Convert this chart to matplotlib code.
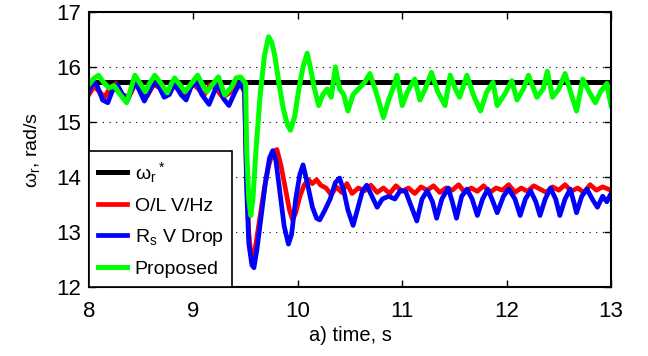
import numpy as np
import matplotlib as mpl
mpl.use("Agg")
import matplotlib.pyplot as plt

plt.rcParams['font.family'] = ['Liberation Sans', 'DejaVu Sans']
plt.rcParams['mathtext.fontset'] = 'custom'
plt.rcParams['mathtext.rm'] = 'Liberation Sans'
plt.rcParams['mathtext.default'] = 'regular'

# reference speed
ref_t = [8.0, 13.0]
ref_w = [15.72, 15.72]

# O/L V/Hz
red_t = [8.00, 8.05, 8.10, 8.15, 8.20, 8.26, 8.32, 8.38, 8.44, 8.50, 8.56, 8.62, 8.68, 8.74,
         8.80, 8.86, 8.92, 8.98, 9.04, 9.10, 9.16, 9.22, 9.28, 9.34, 9.40, 9.45, 9.49,
         9.51, 9.53, 9.55, 9.57, 9.60, 9.64, 9.68, 9.72, 9.76, 9.80, 9.84, 9.88, 9.92, 9.95,
         9.98, 10.02, 10.06, 10.10, 10.14, 10.18, 10.22, 10.27, 10.32, 10.37, 10.42, 10.47,
         10.52, 10.58, 10.64, 10.70, 10.76, 10.82, 10.88, 10.94, 11.00, 11.06, 11.12, 11.18,
         11.24, 11.30, 11.36, 11.42, 11.48, 11.54, 11.60, 11.66, 11.72, 11.78, 11.84, 11.90,
         11.96, 12.02, 12.08, 12.14, 12.20, 12.26, 12.32, 12.38, 12.44, 12.50, 12.56, 12.62,
         12.68, 12.74, 12.80, 12.86, 12.92, 13.00]
red_w = [15.50, 15.65, 15.55, 15.45, 15.62, 15.70, 15.50, 15.45, 15.68, 15.58, 15.48, 15.68, 15.62, 15.50,
         15.68, 15.58, 15.50, 15.70, 15.62, 15.48, 15.68, 15.60, 15.45, 15.52, 15.65, 15.70, 15.55,
         14.00, 13.00, 12.60, 12.45, 12.80, 13.30, 13.80, 14.20, 14.45, 14.50, 14.20, 13.80, 13.40, 13.22,
         13.35, 13.65, 13.85, 13.95, 13.88, 13.95, 13.85, 13.80, 13.68, 13.82, 13.72, 13.88,
         13.70, 13.80, 13.75, 13.85, 13.72, 13.80, 13.70, 13.84, 13.74, 13.80, 13.70, 13.82,
         13.76, 13.84, 13.72, 13.80, 13.76, 13.86, 13.72, 13.80, 13.74, 13.84, 13.72, 13.80,
         13.76, 13.86, 13.72, 13.80, 13.74, 13.84, 13.78, 13.72, 13.82, 13.76, 13.86, 13.74,
         13.80, 13.72, 13.86, 13.76, 13.82, 13.76]

# Rs V drop
blue_t = [8.00, 8.04, 8.08, 8.13, 8.18, 8.22, 8.27, 8.32, 8.37, 8.44, 8.50, 8.53, 8.60, 8.65,
          8.72, 8.77, 8.82, 8.88, 8.93, 8.98, 9.03, 9.08, 9.15, 9.20, 9.24, 9.29, 9.34, 9.40,
          9.45, 9.49, 9.51, 9.53, 9.56, 9.58, 9.61, 9.65, 9.69, 9.73, 9.76, 9.79, 9.83, 9.87,
          9.91, 9.94, 9.98, 10.02, 10.05, 10.09, 10.14, 10.18, 10.21, 10.26, 10.31, 10.36,
          10.40, 10.44, 10.48, 10.53, 10.57, 10.62, 10.66, 10.71, 10.76, 10.81, 10.87, 10.93,
          10.98, 11.03, 11.08, 11.14, 11.19, 11.24, 11.29, 11.33, 11.38, 11.44, 11.48, 11.52,
          11.57, 11.62, 11.67, 11.72, 11.77, 11.82, 11.87, 11.91, 11.97, 12.02, 12.08, 12.13,
          12.18, 12.23, 12.28, 12.32, 12.37, 12.42, 12.47, 12.51, 12.56, 12.61, 12.65, 12.67,
          12.72, 12.77, 12.82, 12.87, 12.92, 12.96, 13.00]
blue_w = [15.55, 15.75, 15.65, 15.40, 15.35, 15.55, 15.68, 15.50, 15.40, 15.75, 15.50, 15.38, 15.65, 15.72,
          15.45, 15.50, 15.70, 15.50, 15.40, 15.65, 15.72, 15.50, 15.32, 15.55, 15.72, 15.42, 15.30, 15.55,
          15.72, 15.55, 13.80, 12.80, 12.40, 12.35, 12.70, 13.30, 13.90, 14.35, 14.48, 14.30, 13.70, 13.10,
          12.78, 12.95, 13.60, 14.05, 14.22, 13.90, 13.45, 13.25, 13.22, 13.40, 13.60, 13.90,
          13.98, 13.75, 13.40, 13.12, 13.40, 13.75, 13.85, 13.65, 13.45, 13.60, 13.65, 13.60,
          13.75, 13.75, 13.50, 13.20, 13.60, 13.75, 13.55, 13.25, 13.60, 13.80, 13.55, 13.25,
          13.65, 13.78, 13.60, 13.30, 13.60, 13.78, 13.55, 13.35, 13.65, 13.78, 13.60, 13.30,
          13.60, 13.75, 13.55, 13.30, 13.60, 13.80, 13.60, 13.30, 13.60, 13.78, 13.50, 13.35,
          13.65, 13.78, 13.60, 13.45, 13.65, 13.55, 13.70]

# Proposed
green_t = [8.00, 8.04, 8.09, 8.14, 8.19, 8.24, 8.29, 8.36, 8.40, 8.44, 8.49, 8.54, 8.58, 8.63,
           8.69, 8.75, 8.79, 8.82, 8.87, 8.92, 8.98, 9.04, 9.08, 9.13, 9.19, 9.24, 9.27, 9.30,
           9.36, 9.41, 9.45, 9.48, 9.50, 9.51, 9.53, 9.55, 9.57, 9.60, 9.64, 9.68, 9.72, 9.75,
           9.78, 9.82, 9.86, 9.90, 9.93, 9.97, 10.01, 10.05, 10.09, 10.12, 10.16, 10.20, 10.24,
           10.28, 10.32, 10.36, 10.40, 10.44, 10.48, 10.53, 10.58, 10.64, 10.69, 10.74, 10.78,
           10.82, 10.87, 10.91, 10.95, 11.00, 11.05, 11.12, 11.17, 11.22, 11.28, 11.34, 11.41,
           11.46, 11.51, 11.55, 11.62, 11.68, 11.75, 11.81, 11.87, 11.91, 11.98, 12.05, 12.10,
           12.16, 12.21, 12.26, 12.29, 12.35, 12.39, 12.44, 12.50, 12.56, 12.62, 12.67, 12.73,
           12.79, 12.85, 12.90, 12.96, 13.00]
green_w = [15.68, 15.78, 15.85, 15.72, 15.62, 15.66, 15.52, 15.35, 15.60, 15.85, 15.70, 15.55, 15.70, 15.85,
           15.70, 15.53, 15.70, 15.80, 15.68, 15.55, 15.70, 15.85, 15.70, 15.55, 15.70, 15.82, 15.65, 15.49,
           15.62, 15.80, 15.82, 15.75, 15.70, 14.50, 13.60, 13.30, 13.60, 14.50, 15.50, 16.20, 16.55, 16.45,
           16.20, 15.70, 15.25, 14.95, 14.85, 15.10, 15.60, 16.00, 16.25, 16.00, 15.60, 15.30, 15.50,
           15.60, 15.45, 16.00, 15.60, 15.50, 15.20, 15.50, 15.60, 15.72, 15.88, 15.60, 15.35,
           15.08, 15.40, 15.60, 15.85, 15.30, 15.55, 15.78, 15.40, 15.60, 15.90, 15.55, 15.30,
           15.85, 15.60, 15.45, 15.85, 15.50, 15.20, 15.55, 15.72, 15.30, 15.50, 15.75, 15.40,
           15.60, 15.85, 15.60, 15.45, 15.60, 15.92, 15.45, 15.60, 15.88, 15.50, 15.20, 15.78,
           15.55, 15.35, 15.55, 15.70, 15.30]

fig = plt.figure(figsize=(6.48, 3.56), dpi=100)
ax = fig.add_axes([89/648, 69/356, 522/648, 275/356])

ax.plot(ref_t, ref_w, color='black', lw=3.6, label='ω$_r$$^*$')
ax.plot(red_t, red_w, color='#ff0000', lw=3.4, label='O/L V/Hz')
ax.plot(blue_t, blue_w, color='#0000ff', lw=3.4, label='R$_s$ V Drop')
ax.plot(green_t, green_w, color='#00ff00', lw=3.6, label='Proposed')

ax.set_xlim(8, 13)
ax.set_ylim(12, 17)
ax.set_xticks([8, 9, 10, 11, 12, 13])
ax.set_yticks([12, 13, 14, 15, 16, 17])
ax.yaxis.grid(True, linestyle=(0, (1, 5)), color='black', lw=0.8)
ax.tick_params(direction='in', top=True, right=True, labelsize=16, length=5, width=1)
ax.tick_params(axis='x', pad=10)
ax.tick_params(axis='y', pad=6)
for s in ax.spines.values():
    s.set_linewidth(1.5)

ax.set_xlabel('a) time, s', fontsize=14.5, labelpad=3)
ax.set_ylabel('ω$_r$, rad/s', fontsize=14, labelpad=10)

leg = ax.legend(loc='lower left', bbox_to_anchor=(0, 0), borderaxespad=0, fontsize=14,
                handlelength=1.5, handletextpad=0.4, labelspacing=0.64, fancybox=False,
                framealpha=1, edgecolor='black', borderpad=0.45)
leg.get_frame().set_linewidth(1.2)

fig.savefig('out.png', dpi=100)
